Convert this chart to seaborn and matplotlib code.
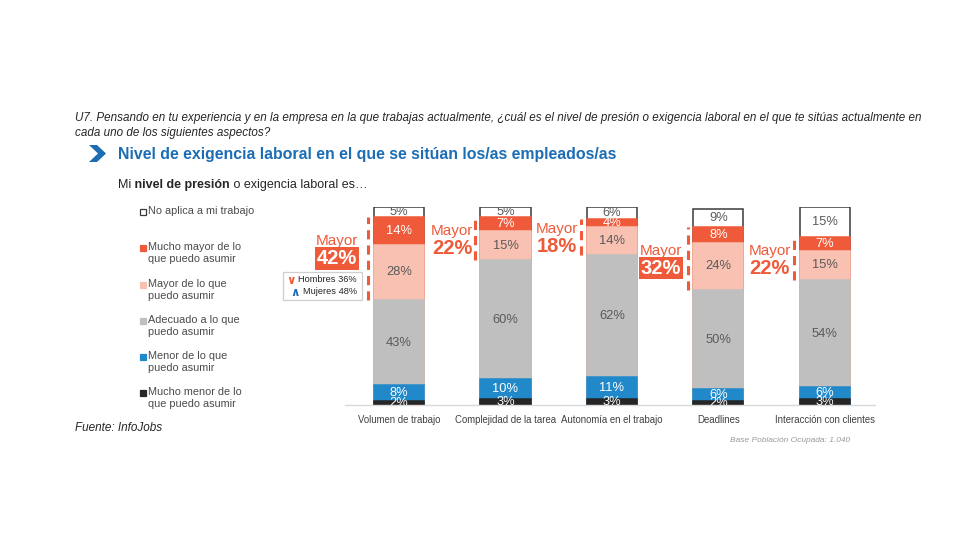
import matplotlib
matplotlib.use("Agg")
import matplotlib.pyplot as plt
import seaborn as sns
import numpy as np
from matplotlib.patches import Rectangle, Polygon

# ---------------- data ----------------
categories = ["Volumen de trabajo", "Complejidad de la tarea",
              "Autonomía en el trabajo", "Deadlines", "Interacción con clientes"]
mucho_menor = [2, 3, 3, 2, 3]
menor = [8, 10, 11, 6, 6]
adecuado = [43, 60, 62, 50, 54]
mayor = [28, 15, 14, 24, 15]
mucho_mayor = [14, 7, 4, 8, 7]
no_aplica = [5, 5, 6, 9, 15]
mayor_total = [42, 22, 18, 32, 22]
gender_labels = ["Hombres 36%", "Mujeres 48%"]

series_labels = ["Mucho menor de lo\nque puedo asumir",
                 "Menor de lo que\npuedo asumir",
                 "Adecuado a lo que\npuedo asumir",
                 "Mayor de lo que\npuedo asumir",
                 "Mucho mayor de lo\nque puedo asumir",
                 "No aplica a mi trabajo"]
series = [mucho_menor, menor, adecuado, mayor, mucho_mayor, no_aplica]

# ---------------- style ----------------
colors = ["#262626", "#2189C9", "#BFBFBF", "#F8C1B2", "#EF5B3A", "#FFFFFF"]
text_colors = ["white", "white", "#5A5A5A", "#5A5A5A", "white", "#5A5A5A"]
ORANGE = "#EF5B3A"
BLUE = "#1C6DB4"
boxed = [True, False, False, True, False]
shift = [5, 0, 0, 0, 0]
xoff = [-0.58, -0.50, -0.52, -0.54, -0.52]

sns.set_style("white")
plt.rcParams["font.family"] = ["Liberation Sans", "DejaVu Sans"]

W, H = 980, 560
fig = plt.figure(figsize=(W / 100, H / 100), dpi=100)


def fx(px):
    return px / W


def fy(py):
    return 1 - py / H


ax = fig.add_axes([fx(345), fy(405), 530 / W, 198 / H])

data = np.array(series, dtype=float)
cum = np.cumsum(data, axis=0)
xs = np.arange(len(categories))

# stacked bars drawn as cumulative overlays (top segment first)
for k in range(len(series) - 1, -1, -1):
    if k == len(series) - 1:
        ec, lw = "#3A3A3A", 1.1
    else:
        ec, lw = colors[k], 1.1
    sns.barplot(x=categories, y=cum[k], color=colors[k], saturation=1,
                width=0.47, errorbar=None, edgecolor=ec, linewidth=lw, ax=ax)

# segment labels
for k in range(len(series)):
    for i in range(len(categories)):
        v = data[k, i]
        ymid = cum[k, i] - v / 2
        ax.text(xs[i], ymid, f"{int(v)}%", ha="center", va="center",
                fontsize=9.3, color=text_colors[k], clip_on=True)

ax.set_xlim(-0.507, 4.47)
ax.set_ylim(0, 100)
ax.set_yticks([])
ax.set_ylabel("")
ax.set_xlabel("")
for s in ["top", "left", "right"]:
    ax.spines[s].set_visible(False)
ax.spines["bottom"].set_color("#D9D9D9")
ax.spines["bottom"].set_linewidth(1)
ax.tick_params(axis="x", length=0, pad=7, labelsize=6.9, labelcolor="#404040")

# "Mayor" annotations
for i in range(len(categories)):
    lo = cum[2, i]
    hi = cum[4, i]
    ax.plot([xs[i] - 0.29, xs[i] - 0.29], [lo, hi], color=ORANGE, lw=2.2,
            linestyle=(0, (3, 2.0)), solid_capstyle="butt", clip_on=False)
    mid = (lo + hi) / 2 + shift[i]
    xm = xs[i] + xoff[i]
    ax.text(xm, mid + 4, "Mayor", ha="center", va="center", fontsize=11,
            color=ORANGE, clip_on=False)
    if boxed[i]:
        ax.text(xm, mid - 5, f"{mayor_total[i]}%", ha="center", va="center",
                fontsize=14.5, fontweight="bold", color="white", clip_on=False,
                bbox=dict(boxstyle="square,pad=0.08", fc=ORANGE, ec="none"))
    else:
        ax.text(xm, mid - 5, f"{mayor_total[i]}%", ha="center", va="center",
                fontsize=14.5, fontweight="bold", color=ORANGE, clip_on=False)

# gender box
fig.patches.append(Rectangle((fx(283), fy(300)), 79 / W, 28 / H,
                             transform=fig.transFigure, fc="white",
                             ec="#CFCFCF", lw=0.9))
fig.text(fx(357), fy(280), gender_labels[0], ha="right", va="center",
         fontsize=6.7, color="#262626")
fig.text(fx(357), fy(292), gender_labels[1], ha="right", va="center",
         fontsize=6.7, color="#262626")
fig.text(fx(291), fy(280.5), "∨", ha="center", va="center", fontsize=8.5,
         fontweight="bold", color=ORANGE, family=["DejaVu Sans"])
fig.text(fx(294.5), fy(292), "∧", ha="center", va="center", fontsize=8.5,
         fontweight="bold", color=BLUE, family=["DejaVu Sans"])

# legend (manual, top item first)
leg_y = [212, 248, 285, 321, 357, 393]
for j, k in enumerate(range(len(series) - 1, -1, -1)):
    y = leg_y[j]
    fig.patches.append(Rectangle((fx(140), fy(y + 3)), 6 / W, 6 / H,
                                 transform=fig.transFigure, fc=colors[k],
                                 ec="#3A3A3A" if k == len(series) - 1 else colors[k],
                                 lw=0.9))
    fig.text(fx(148), fy(y - 6), series_labels[k], ha="left", va="top",
             fontsize=7.8, color="#4A4A4A", linespacing=1.28)

# header texts
fig.text(fx(75), fy(118),
         "U7. Pensando en tu experiencia y en la empresa en la que trabajas actualmente, "
         "¿cuál es el nivel de presión o exigencia laboral en el que te sitúas actualmente en",
         ha="left", va="center", fontsize=8.35, style="italic", color="#262626")
fig.text(fx(75), fy(133), "cada uno de los siguientes aspectos?",
         ha="left", va="center", fontsize=8.35, style="italic", color="#262626")

fig.patches.append(Polygon([(fx(89), fy(145)), (fx(97), fy(145)), (fx(106), fy(153.5)),
                            (fx(97), fy(162)), (fx(89), fy(162)), (fx(98), fy(153.5))],
                           closed=True, transform=fig.transFigure, fc=BLUE, ec="none"))
fig.text(fx(118), fy(154), "Nivel de exigencia laboral en el que se sitúan los/as empleados/as",
         ha="left", va="center", fontsize=11.4, fontweight="bold", color=BLUE)

t1 = fig.text(fx(118), fy(185), "Mi", ha="left", va="center", fontsize=9, color="#262626")
t2 = ax.annotate(" nivel de presión", xy=(1, 0), xycoords=t1, ha="left", va="bottom",
                 fontsize=9, fontweight="bold", color="#262626")
ax.annotate(" o exigencia laboral es…", xy=(1, 0), xycoords=t2, ha="left", va="bottom",
            fontsize=9, color="#262626")

fig.text(fx(75), fy(428), "Fuente: InfoJobs", ha="left", va="center", fontsize=8.5,
         style="italic", color="#262626")
fig.text(fx(850), fy(441), "Base Población Ocupada: 1.040", ha="right", va="center",
         fontsize=6, style="italic", color="#9A9A9A")

fig.savefig("out.png", dpi=100)
